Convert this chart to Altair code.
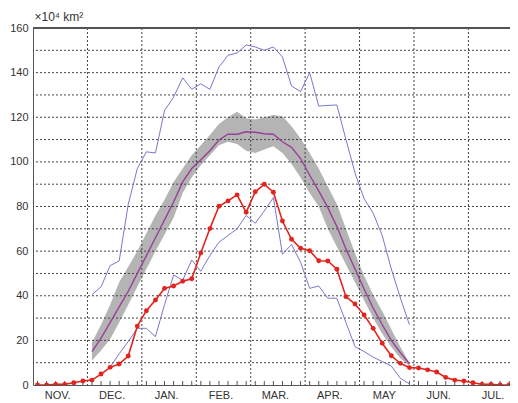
import altair as alt
import pandas as pd

# ---- data (x = pentad number, 6 per month, Nov..Jul) ----
months = ["NOV.", "DEC.", "JAN.", "FEB.", "MAR.", "APR.", "MAY", "JUN.", "JUL."]
pentads = list(range(1, 55))

this_year = [0, 0, 0.3, 0.3, 1, 1.8,
             2.2, 4.9, 7.9, 9.4, 13, 26.4,
             33.3, 38.1, 43.3, 44.4, 46.5, 47.6,
             59.2, 70.1, 80.1, 82.5, 85.2, 77.4,
             86.6, 90, 86.4, 73.5, 65.3, 61.3,
             60.2, 55.7, 55.6, 51.9, 39.6, 36.3,
             31.4, 25.4, 18.7, 13.1, 9.7, 7.8,
             7.6, 6.8, 5.8, 3.4, 2.2, 1.8,
             1, 0.3, 0.3, 0, 0, 0]

clim_start = 7
clim_mean = [15, 21, 28, 35, 42, 50,
             58, 66, 74, 82, 91, 97,
             101, 105, 109.8, 112.4, 112.4, 113.5,
             113.3, 112.6, 112.4, 109, 106.5, 101.5,
             94, 87, 79.5, 71, 61, 52,
             43, 34.5, 27, 20, 14.5, 9.5]
clim_low = [11, 15.5, 20.5, 28, 36, 44,
            52, 60, 67.5, 75, 86, 93,
            98.5, 103, 107.5, 109, 108, 105,
            104, 105.5, 107, 104, 99, 93,
            86, 80, 70, 62, 54, 46,
            38, 30, 23, 17, 12, 8.5]
clim_high = [19, 27, 36, 46, 53, 60,
             68, 76, 83, 91, 97, 103,
             107.5, 112, 117, 120, 122.5, 119.5,
             119, 120, 121, 120.5, 116, 110.5,
             104, 97, 89, 81, 70, 59,
             49, 40.5, 33, 25, 17, 10]

max_start = 7
max_year = [40.5, 44, 53.5, 55.6, 81, 97,
            104.5, 104, 123, 129, 137.7, 132.5,
            135, 132.5, 142.5, 147.8, 148.8, 152.4,
            151.5, 150, 151.5, 147, 134, 131.5,
            140, 125, 125.3, 125.5, 110, 95,
            83.5, 77, 67, 52, 39, 27]

min_start = 9
min_year = [8, 14, 19.5, 25.4,
            25.4, 21.7, 36, 49.3, 47, 56,
            51, 58, 64, 67, 70, 76,
            72.5, 78, 84, 58.6, 63, 55,
            43.3, 44.4, 38.9, 38.9, 28, 17.2,
            15, 12.5, 10.5, 8.5, 3, 0.5]

y_ticks = list(range(0, 161, 10))
y_grid = list(range(10, 160, 10))
month_bounds = [6 * k for k in range(1, 9)]
month_centers = [6 * k + 3 for k in range(len(months))]

# ---- tables ----
df_now = pd.DataFrame({"p": [p - 0.5 for p in pentads], "v": this_year})
df_clim = pd.DataFrame({
    "p": [clim_start + i - 0.5 for i in range(len(clim_mean))],
    "mean": clim_mean, "low": clim_low, "high": clim_high})
df_max = pd.DataFrame({"p": [max_start + i - 0.5 for i in range(len(max_year))], "v": max_year})
df_min = pd.DataFrame({"p": [min_start + i - 0.5 for i in range(len(min_year))], "v": min_year})
df_ygrid = pd.DataFrame({"v": y_grid})
df_xgrid = pd.DataFrame({"p": month_bounds})
df_ticks = pd.DataFrame({"p": [p - 0.5 for p in pentads]})

W, H = 477, 357
XMAX = W / 9.071

month_js = "[" + ",".join("'%s'" % m for m in months) + "]"
xscale = alt.Scale(domain=[0, XMAX], nice=False, zero=False)
yscale = alt.Scale(domain=[0, 160], nice=False)

font = "Liberation Sans"
xaxis = alt.Axis(values=month_centers, labelExpr=month_js + "[floor(datum.value/6)]",
                 ticks=False, grid=False, domainColor="#555", domainWidth=1,
                 labelFont=font, labelFontSize=11, labelColor="#333", labelPadding=4,
                 labelOffset=-3, title=None)
yaxis = alt.Axis(values=y_ticks, ticks=False, grid=False, domainColor="#555", domainWidth=1,
                 labelFont=font, labelFontSize=11, labelColor="#333", labelPadding=5,
                 title="×10⁴ km²", titleAngle=0, titleAlign="left", titleBaseline="alphabetic",
                 titleX=1, titleY=-8, titleFont=font, titleFontSize=12,
                 titleFontWeight="normal", titleColor="#333")

X = lambda f: alt.X(f"{f}:Q", scale=xscale, axis=xaxis)
Y = lambda f: alt.Y(f"{f}:Q", scale=yscale, axis=yaxis)

band = alt.Chart(df_clim).mark_area(color="#b4b4b4", clip=True).encode(
    x=X("p"), y=Y("low"), y2="high")

grid_h = alt.Chart(df_ygrid).mark_rule(color="#444", strokeDash=[2, 2], strokeWidth=1).encode(
    y=Y("v"))
grid_v = alt.Chart(df_xgrid).mark_rule(color="#444", strokeDash=[2, 2], strokeWidth=1).encode(
    x=X("p"))

top_line = alt.Chart(df_ygrid).mark_rule(color="#555", strokeWidth=1).encode(
    y=alt.datum(160, scale=yscale))

ticks = alt.Chart(df_ticks).mark_rule(color="#555", strokeWidth=1, clip=True).encode(
    x=X("p"), y=alt.value(H), y2=alt.value(H - 4))

mean_line = alt.Chart(df_clim).mark_line(color="#9a3f9a", strokeWidth=1.4, clip=True).encode(
    x=X("p"), y=Y("mean"))
max_line = alt.Chart(df_max).mark_line(color="#7878cc", strokeWidth=1, clip=True).encode(
    x=X("p"), y=Y("v"))
min_line = alt.Chart(df_min).mark_line(color="#7878cc", strokeWidth=1, clip=True).encode(
    x=X("p"), y=Y("v"))
now_line = alt.Chart(df_now).mark_line(
    color="#e3241e", strokeWidth=1.6, clip=True,
    point=alt.OverlayMarkDef(filled=True, size=24, color="#e3241e", opacity=1)
).encode(x=X("p"), y=Y("v"))

chart = alt.layer(
    band, grid_h, grid_v, top_line, ticks, max_line, min_line, mean_line, now_line
).properties(
    width=W, height=H,
    autosize=alt.AutoSizeParams(type="none"),
    padding={"left": 25, "top": 20, "right": 0, "bottom": 18},
    background="white",
).configure_view(strokeWidth=0)

chart.save("out.html", embed_options={"renderer": "svg", "actions": False})
